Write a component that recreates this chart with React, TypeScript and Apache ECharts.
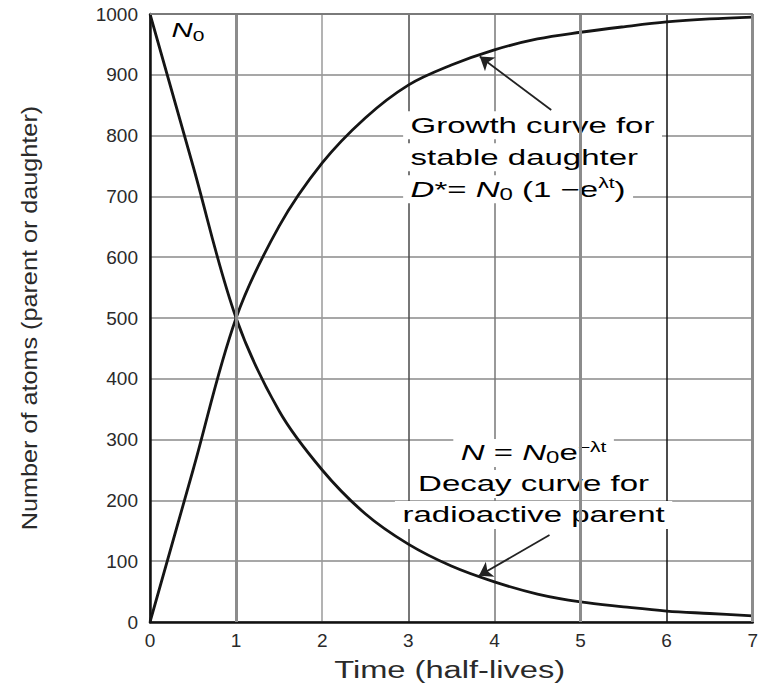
import { useEffect, useRef } from "react";
import * as echarts from "echarts";

// Time in half-lives and number of atoms
const timeHalfLives = [0, 0.5, 1, 1.5, 2, 2.5, 3, 3.5, 4, 4.5, 5, 5.5, 6, 6.5, 7];
const parentAtoms = [1000, 750, 500, 347, 250, 178, 128, 92, 66, 46, 33, 25, 18, 14, 10];
const daughterAtoms = [0, 250, 500, 651, 755, 829, 883, 916, 941, 959, 970, 979, 987, 992, 995];

const xTickMax = 7;
const yTickMax = 1000;
const yTickStep = 100;

const xAxisTitle = "Time (half-lives)";
const yAxisTitle = "Number of atoms (parent or daughter)";

const growthNote = [
  "{n|Growth curve for}",
  "{n|stable daughter}",
  "{i|D}{n|*= }{i|N}{sub|0}{n| (1 −e}{sup|λt}{n|)}",
];
const decayNote = [
  "{i|N}{n| = }{i|N}{sub|0}{n|e}{sup|−λt}",
  "{n|Decay curve for}",
  "{n|radioactive parent}",
];
const growthArrow = [[4.66, 842], [3.83, 930]];
const decayArrow = [[4.64, 143], [3.82, 76]];

export default function App() {
  const ref = useRef<HTMLDivElement>(null);
  useEffect(() => {
    document.body.style.margin = "0";
    const chart = echarts.init(ref.current!, null, { renderer: "svg" });
    const font = "'Liberation Sans', Arial, Helvetica, sans-serif";
    const ink = "#2a2a2a";
    chart.setOption({
      animation: false,
      backgroundColor: "#ffffff",
      grid: { left: 150, right: 3, top: 14, bottom: 65 },
      xAxis: {
        type: "value",
        min: 0,
        max: xTickMax,
        interval: 1,
        axisLine: { show: true, onZero: false, lineStyle: { color: "#111", width: 2.5 } },
        axisTick: { show: false },
        axisLabel: { fontSize: 19, color: ink, fontFamily: font, margin: 9, formatter: (v: number) => String(v) },
        splitLine: {
          show: true,
          lineStyle: {
            color: ["#555", "#8c8c8c", "#9a9a9a", "#4a4a4a", "#777", "#8c8c8c", "#111", "#8c8c8c"],
            width: 1.5,
          },
        },
      },
      yAxis: {
        type: "value",
        min: 0,
        max: yTickMax,
        interval: yTickStep,
        axisLine: { show: true, lineStyle: { color: "#111", width: 2.5 } },
        axisTick: { show: false },
        axisLabel: { fontSize: 19, color: ink, fontFamily: font, margin: 12, formatter: (v: number) => String(v) },
        splitLine: { show: true, lineStyle: { color: "#8a8a8a", width: 1.5 } },
      },
      series: [
        {
          type: "line",
          z: 1,
          data: [[0, 0]],
          showSymbol: false,
          symbol: "none",
          lineStyle: { width: 0 },
          silent: true,
          markLine: {
            silent: true,
            symbol: "none",
            label: { show: false },
            lineStyle: { color: "#8c8c8c", width: 3, type: "solid" },
            data: [{ xAxis: 1 }, { xAxis: 5 }, { xAxis: 7 }, { yAxis: 1000, lineStyle: { width: 2, color: "#7a7a7a" } }],
          },
        },
        {
          name: "Decay",
          type: "line",
          z: 3,
          data: timeHalfLives.map((t, i) => [t, parentAtoms[i]]),
          smooth: 0.35,
          symbol: "none",
          lineStyle: { color: "#151515", width: 2.8 },
        },
        {
          name: "Growth",
          type: "line",
          z: 3,
          data: timeHalfLives.map((t, i) => [t, daughterAtoms[i]]),
          smooth: 0.35,
          symbol: "none",
          lineStyle: { color: "#151515", width: 2.8 },
        },
        {
          type: "lines",
          coordinateSystem: "cartesian2d",
          z: 4,
          symbol: ["none", "arrow"],
          symbolSize: [0, 13],
          lineStyle: { color: "#222", width: 1.8, opacity: 1 },
          data: [{ coords: growthArrow }, { coords: decayArrow }],
        },
      ],
    });

    const px = (x: number, y: number) => chart.convertToPixel({ gridIndex: 0 }, [x, y]) as number[];
    const rich = {
      n: { fontSize: 22, fontFamily: font, color: ink, lineHeight: 26 },
      i: { fontSize: 22, fontFamily: font, fontStyle: "italic", color: ink, lineHeight: 26 },
      sub: { fontSize: 16, fontFamily: font, color: ink, lineHeight: 15, verticalAlign: "bottom" },
      sup: { fontSize: 14, fontFamily: font, color: ink, lineHeight: 14, verticalAlign: "top" },
    };
    const note = (text: string, x: number, y: number, align: string) => ({
      type: "text",
      x,
      y,
      z: 2,
      scaleX: 1.5,
      style: {
        text,
        rich,
        align,
        textAlign: align,
        verticalAlign: "middle",
        textVerticalAlign: "middle",
        backgroundColor: "#ffffff",
        padding: [1, 5, 1, 5],
      },
    });
    const g0 = px(2.94, 817);
    const d0 = px(4.455, 278);
    const xName = px(3.48, 0);
    const yName = px(0, 500);
    const n0 = px(0.25, 974);
    const graphics: any[] = [];
    growthNote.forEach((t, i) => graphics.push(note(t, g0[0], g0[1] + i * 32, "left")));
    decayNote.forEach((t, i) => graphics.push(note(t, d0[0], d0[1] + i * 31, "center")));
    graphics.push({
      type: "text",
      x: xName[0],
      y: xName[1] + 48,
      z: 2,
      scaleX: 1.42,
      style: { text: xAxisTitle, fontSize: 23, fontFamily: font, fill: ink, align: "center", textAlign: "center", verticalAlign: "middle", textVerticalAlign: "middle" },
    });
    graphics.push({
      type: "text",
      x: 30,
      y: yName[1],
      z: 2,
      rotation: Math.PI / 2,
      scaleX: 1.05,
      scaleY: 0.92,
      style: { text: yAxisTitle, fontSize: 24, fontFamily: font, fill: ink, align: "center", textAlign: "center", verticalAlign: "middle", textVerticalAlign: "middle" },
    });
    graphics.push({
      type: "text",
      x: n0[0],
      y: n0[1],
      z: 2,
      scaleX: 1.4,
      style: {
        text: "{i|N}{sub|0}",
        rich: { ...rich, i: { ...rich.i, fontSize: 21 }, sub: { ...rich.sub, fontSize: 15 } },
        align: "left",
        textAlign: "left",
        verticalAlign: "middle",
        textVerticalAlign: "middle",
      },
    });
    chart.setOption({ graphic: graphics });

    return () => chart.dispose();
  }, []);
  return <div ref={ref} style={{ width: 761, height: 687 }} />;
}
